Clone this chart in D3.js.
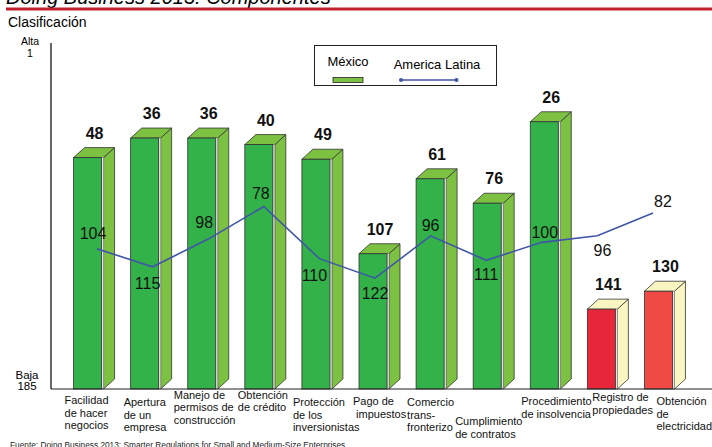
<!DOCTYPE html>
<html>
<head>
<meta charset="utf-8">
<script src="https://cdn.jsdelivr.net/npm/d3@7"></script>
<style>
  html, body { margin: 0; padding: 0; background: #fff; }
  svg { display: block; font-family: "Liberation Sans", Arial, sans-serif; }
</style>
</head>
<body>
<svg id="chart" width="712" height="447"></svg>
<script>
// ---------- data ----------
const categories = [
  "Facilidad\nde hacer\nnegocios",
  "Apertura\nde un\nempresa",
  "Manejo de\npermisos de\nconstrucción",
  "Obtención\nde crédito",
  "Protección\nde los\ninversionistas",
  "Pago de\n\u00a0impuestos",
  "Comercio\ntrans-\nfronterizo",
  "Cumplimiento\nde contratos",
  "Procedimiento\nde insolvencia",
  "Registro de\npropiedades",
  "Obtención\nde\nelectricidad"
];
const mexico = [48, 36, 36, 40, 49, 107, 61, 76, 26, 141, 130];
const americaLatina = [104, 115, 98, 78, 110, 122, 96, 111, 100, 96, 82];
const seriesNames = ["México", "America Latina"];
const axisTop = ["Alta", "1"];
const axisBottom = ["Baja", "185"];

// ---------- layout / style (not data) ----------
const W = 712, H = 447;
const baseY = 389, axisX = 51;
const frontW = 28, stripW = 2, depthX = 11, depthY = 10;
const greenFront = "#33b24a", greenSide = "#7cc142";
const redFronts = ["#e8263a", "#f04a44"];
const paleSide = "#faf6c2";
const lineColor = "#3f55a8";
// per-category label offsets [dx from bar front-left, first-line center y]
const catLabelPos = [[-9,400],[-7,402],[-14,394.5],[-7,394.5],[-9,402],[-6,401],[-9,402],[-18,421],[-9,401],[5,397],[12,401]];
// line label offsets [dx, dy] of text center relative to point
const lineLabelPos = [[-4,-16],[-5,16],[-4,-17],[-3,-13],[-5,16],[0,15],[0,-11],[0,14],[3,-10],[5,14],[10,-12]];

const svg = d3.select("#chart");

const y = d3.scaleLinear().domain([0, 190]).range([79.4, baseY]);
const xBand = d3.scaleBand().domain(categories).range([65, 693]);
const xLine = d3.scalePoint().domain(categories).range([97, 653]);
const frontLeft = c => xBand(c) + xBand.bandwidth() / 2 - 20;

// ---------- title area ----------
svg.append("text").attr("x", 6).attr("y", 4)
  .attr("font-size", 20).attr("font-style", "italic").attr("fill", "#000")
  .text("Doing Business 2013: Componentes");
svg.append("rect").attr("x", 6).attr("y", 7.5).attr("width", W - 6).attr("height", 3).attr("fill", "#c0202a");
svg.append("text").attr("x", 8).attr("y", 27).attr("font-size", 14).attr("fill", "#000").text("Clasificación");

// ---------- axis ----------
svg.append("line").attr("x1", axisX).attr("x2", axisX).attr("y1", 43).attr("y2", baseY)
  .attr("stroke", "#333").attr("stroke-width", 1.5);

axisTop.forEach((t, i) => svg.append("text").attr("x", 30).attr("y", 45 + i * 12)
  .attr("text-anchor", "middle").attr("font-size", 10.5).text(t));
axisBottom.forEach((t, i) => svg.append("text").attr("x", 27).attr("y", 379 + i * 11)
  .attr("text-anchor", "middle").attr("font-size", 11.5).text(t));

// ---------- bars ----------
const bars = svg.append("g");
categories.forEach((c, i) => {
  const v = mexico[i];
  const fx = frontLeft(c), ty = y(v);
  const isRed = i >= 9;
  const front = isRed ? redFronts[i - 9] : greenFront;
  const side = isRed ? paleSide : greenSide;
  const g = bars.append("g");
  const rx = fx + frontW + stripW;
  g.append("path").attr("d",
    `M${rx},${ty} L${rx + depthX},${ty - depthY} L${rx + depthX},${baseY - depthY} L${rx},${baseY} Z`)
    .attr("fill", side).attr("stroke", "#333").attr("stroke-width", 0.8);
  g.append("path").attr("d",
    `M${fx},${ty} L${fx + depthX},${ty - depthY} L${rx + depthX},${ty - depthY} L${rx},${ty} Z`)
    .attr("fill", side).attr("stroke", "#333").attr("stroke-width", 0.8);
  g.append("rect").attr("x", fx + frontW).attr("y", ty).attr("width", stripW).attr("height", baseY - ty)
    .attr("fill", "#e6e6e6").attr("stroke", "#888").attr("stroke-width", 0.5);
  g.append("rect").attr("x", fx).attr("y", ty).attr("width", frontW).attr("height", baseY - ty)
    .attr("fill", front).attr("stroke", "#333").attr("stroke-width", 0.8);
  g.append("text").attr("x", fx + 21).attr("y", ty - 19)
    .attr("text-anchor", "middle").attr("font-size", 16).attr("font-weight", "bold").attr("fill", "#111")
    .text(v);
});

// baseline
svg.append("line").attr("x1", axisX).attr("x2", W).attr("y1", baseY).attr("y2", baseY)
  .attr("stroke", "#222").attr("stroke-width", 1.2);

// ---------- line ----------
const lineGen = d3.line().x((d, i) => xLine(categories[i])).y(d => y(d));
svg.append("path").datum(americaLatina).attr("d", lineGen)
  .attr("fill", "none").attr("stroke", lineColor).attr("stroke-width", 1.6);
americaLatina.forEach((v, i) => {
  const [dx, dy] = lineLabelPos[i];
  svg.append("text").attr("x", xLine(categories[i]) + dx).attr("y", y(v) + dy + 6)
    .attr("text-anchor", "middle").attr("font-size", 16).attr("fill", "#111").text(v);
});

// ---------- category labels ----------
categories.forEach((c, i) => {
  const [dx, cy] = catLabelPos[i];
  const t = svg.append("text").attr("font-size", 11).attr("fill", "#111");
  c.split("\n").forEach((line, j) => {
    t.append("tspan").attr("x", frontLeft(c) + dx).attr("y", cy + 4 + j * 12.6).text(line);
  });
});

// ---------- legend ----------
const lg = svg.append("g");
lg.append("rect").attr("x", 314.5).attr("y", 45.5).attr("width", 182).attr("height", 40)
  .attr("fill", "#fff").attr("stroke", "#222").attr("stroke-width", 1);
lg.append("text").attr("x", 348).attr("y", 66).attr("text-anchor", "middle").attr("font-size", 13).text(seriesNames[0]);
lg.append("rect").attr("x", 333).attr("y", 77.5).attr("width", 30).attr("height", 5)
  .attr("fill", greenSide).attr("stroke", "#222").attr("stroke-width", 0.8);
lg.append("text").attr("x", 437).attr("y", 69).attr("text-anchor", "middle").attr("font-size", 13).text(seriesNames[1]);
lg.append("line").attr("x1", 401).attr("x2", 456.5).attr("y1", 80).attr("y2", 80)
  .attr("stroke", lineColor).attr("stroke-width", 1.4);
[401, 456.5].forEach(cx => lg.append("circle").attr("cx", cx).attr("cy", 80).attr("r", 2).attr("fill", lineColor));

// ---------- footer ----------
svg.append("text").attr("x", 10).attr("y", 447.5).attr("font-size", 8.3).attr("fill", "#222")
  .text("Fuente: Doing Business 2013: Smarter Regulations for Small and Medium-Size Enterprises");
</script>
</body>
</html>
